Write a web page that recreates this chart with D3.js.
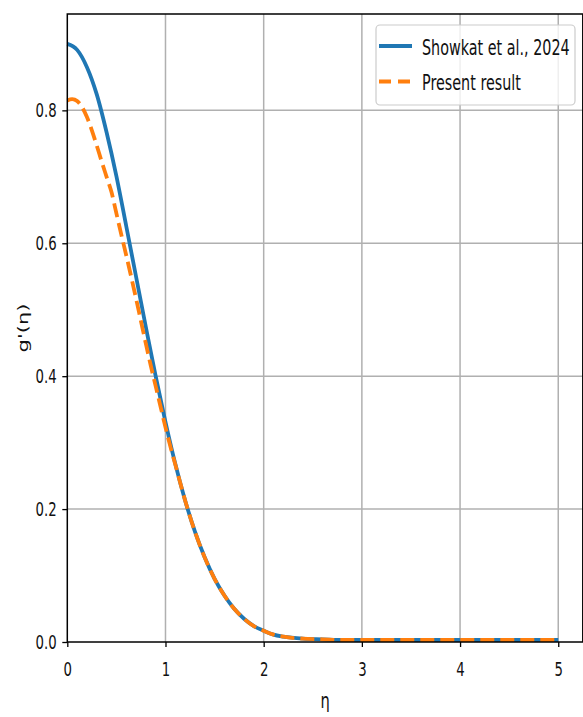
<!DOCTYPE html>
<html>
<head>
<meta charset="utf-8">
<script src="https://cdn.jsdelivr.net/npm/d3@7"></script>
<style>
  body { margin: 0; background: #fff; }
  text { font-family: "DejaVu Sans", sans-serif; fill: #111; }
</style>
</head>
<body>
<div id="chart"></div>
<script>
var width = 583,
    height = 717;

// values
var etaShowkat = [0, 0.1, 0.2, 0.3, 0.4, 0.5, 0.6, 0.7, 0.8, 0.9, 1.0, 1.1, 1.2, 1.3, 1.4, 1.5,
                  1.6, 1.7, 1.8, 1.9, 2.0, 2.1, 2.2, 2.4, 2.6, 2.8, 3.0, 3.5, 4.0, 4.5, 5.0];
var gShowkat = [0.900, 0.891, 0.865, 0.824, 0.767, 0.701, 0.626, 0.550, 0.474, 0.400, 0.331, 0.268,
                0.213, 0.166, 0.127, 0.095, 0.070, 0.050, 0.035, 0.024, 0.017, 0.011, 0.008,
                0.005, 0.004, 0.003, 0.003, 0.003, 0.003, 0.003, 0.003];

var etaPresent = [0, 0.05, 0.1, 0.15, 0.2, 0.25, 0.3, 0.35, 0.4, 0.45, 0.5, 0.55, 0.6, 0.65, 0.7,
                  0.75, 0.8, 0.85, 0.9, 0.95, 1.0, 1.05, 1.1, 1.2, 1.3, 1.4, 1.5, 1.6, 1.7, 1.8, 1.9,
                  2.0, 2.1, 2.2, 2.4, 2.6, 2.8, 3.0, 3.5, 4.0, 4.5, 5.0];
var gPresent = [0.815, 0.817, 0.814, 0.805, 0.790, 0.770, 0.747, 0.723, 0.700, 0.677, 0.645, 0.613,
                0.582, 0.550, 0.517, 0.483, 0.449, 0.416, 0.385, 0.354, 0.323, 0.294, 0.267,
                0.213, 0.166, 0.127, 0.095, 0.070, 0.050, 0.035, 0.024, 0.017, 0.011, 0.008,
                0.005, 0.004, 0.003, 0.003, 0.003, 0.003, 0.003, 0.003];

var xTicks = [0, 1, 2, 3, 4, 5];
var yTicks = [0.0, 0.2, 0.4, 0.6, 0.8];
var seriesNames = ["Showkat et al., 2024", "Present result"];
var seriesColors = ["#1f77b4", "#ff7f0e"];

// image was squeezed sideways, so glyphs get narrowed
var squeeze = 0.7;

var svg = d3.select("#chart").append("svg")
    .attr("width", width)
    .attr("height", height);

var x = d3.scaleLinear().domain([0, 5.25]).range([67.3, 582.8]);
var y = d3.scaleLinear().domain([0, 0.945]).range([642, 14]);

// grid
svg.append("g").selectAll("line")
    .data(xTicks.slice(1))
    .enter().append("line")
    .attr("x1", function(d) { return x(d); })
    .attr("x2", function(d) { return x(d); })
    .attr("y1", y(0)).attr("y2", y(0.945))
    .attr("stroke", "#b0b0b0").attr("stroke-width", 1.5);

svg.append("g").selectAll("line")
    .data(yTicks.slice(1))
    .enter().append("line")
    .attr("x1", x(0)).attr("x2", x(5.25))
    .attr("y1", function(d) { return y(d); })
    .attr("y2", function(d) { return y(d); })
    .attr("stroke", "#b0b0b0").attr("stroke-width", 1.5);

// curves
var line = d3.line()
    .x(function(d) { return x(d[0]); })
    .y(function(d) { return y(d[1]); })
    .curve(d3.curveMonotoneX);

svg.append("path")
    .datum(d3.zip(etaShowkat, gShowkat))
    .attr("d", line)
    .attr("fill", "none")
    .attr("stroke", seriesColors[0])
    .attr("stroke-width", 3.8);

svg.append("path")
    .datum(d3.zip(etaPresent, gPresent))
    .attr("d", line)
    .attr("fill", "none")
    .attr("stroke", seriesColors[1])
    .attr("stroke-width", 3.8)
    .attr("stroke-dasharray", "14,6");

// axes
var xAxis = svg.append("g")
    .attr("transform", "translate(0," + y(0) + ")")
    .call(d3.axisBottom(x).tickValues(xTicks).tickSize(5).tickFormat(d3.format("d")));
xAxis.select(".domain").remove();
xAxis.selectAll("line").attr("stroke", "#000").attr("stroke-width", 1.3);
xAxis.selectAll("text")
    .attr("y", 34.5).attr("dy", null)
    .attr("transform", "scale(" + squeeze + ",1)")
    .style("font-size", "19px")
    .style("font-family", "DejaVu Sans")
    .attr("fill", "#111");

var yAxis = svg.append("g")
    .attr("transform", "translate(" + x(0) + ",0)")
    .call(d3.axisLeft(y).tickValues(yTicks).tickSize(5).tickFormat(d3.format(".1f")));
yAxis.select(".domain").remove();
yAxis.selectAll("line").attr("stroke", "#000").attr("stroke-width", 1.3);
yAxis.selectAll("text")
    .attr("x", -10.6 / squeeze)
    .attr("transform", "scale(" + squeeze + ",1)")
    .style("font-size", "19px")
    .style("font-family", "DejaVu Sans")
    .attr("fill", "#111");

// frame
svg.append("rect")
    .attr("x", x(0)).attr("y", y(0.945))
    .attr("width", x(5.25) - x(0)).attr("height", y(0) - y(0.945))
    .attr("fill", "none").attr("stroke", "#000").attr("stroke-width", 1.5);

// axis labels
svg.append("text")
    .attr("transform", "translate(" + (x(0) + x(5.25)) / 2 + ",708) scale(" + squeeze + ",1)")
    .attr("text-anchor", "middle")
    .style("font-size", "21px")
    .text("η");

svg.append("text")
    .attr("transform", "translate(28," + (y(0) + y(0.945)) / 2 + ") scale(" + squeeze + ",1) rotate(-90)")
    .attr("text-anchor", "middle")
    .style("font-size", "21px")
    .text("g'(η)");

// legend
var legend = svg.append("g");
legend.append("rect")
    .attr("x", 376).attr("y", 25)
    .attr("width", 199).attr("height", 80)
    .attr("rx", 4)
    .attr("fill", "#fff").attr("fill-opacity", 0.8)
    .attr("stroke", "#cccccc").attr("stroke-width", 1.2);

var items = legend.selectAll("g.item")
    .data(seriesNames)
    .enter().append("g")
    .attr("class", "item")
    .attr("transform", function(d, i) { return "translate(379," + (46 + i * 35.5) + ")"; });

items.append("line")
    .attr("x1", 0).attr("x2", 33)
    .attr("stroke", function(d, i) { return seriesColors[i]; })
    .attr("stroke-width", 3.8)
    .attr("stroke-dasharray", function(d, i) { return i == 1 ? "12,7" : null; });

items.append("text")
    .attr("transform", "translate(43,8.5) scale(" + squeeze + ",1)")
    .style("font-size", "20.5px")
    .text(function(d) { return d; });
</script>
</body>
</html>
